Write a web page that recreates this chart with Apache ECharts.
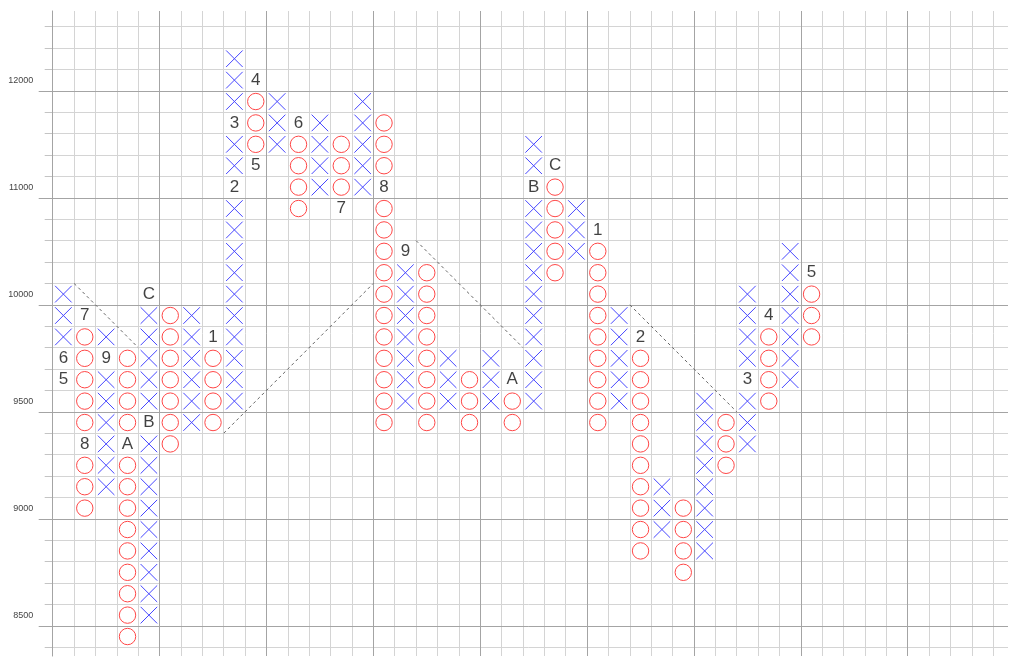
<!DOCTYPE html>
<html><head><meta charset="utf-8">
<script src="https://cdn.jsdelivr.net/npm/echarts@6/dist/echarts.min.js"></script>
<style>html,body{margin:0;padding:0;background:#fff}#c{width:1024px;height:672px}</style>
</head><body><div id="c"></div>
<script>
// Box levels (lower bound price of each box; 100 below 10000, 200 above)
const boxLevels = [8400,8500,8600,8700,8800,8900,9000,9100,9200,9300,9400,9500,9600,9700,9800,9900,
  10000,10200,10400,10600,10800,11000,11200,11400,11600,11800,12000,12200,12400,12600];
const axisLabelPrices = [8500,9000,9500,10000,11000,12000];
const majorLinePrices = [8500,9000,9500,10000,11000,12000];

// Point & figure columns
const columnTypes = ['X','O','X','O','X','O','X','O','X','O','X','O','X','O','X','O','X','O',
  'X','O','X','O','X','O','X','O','X','O','X','O','X','O','X','O','X','O'];
const columnLows  = [9600,9000,9100,8400,8500,9300,9400,9400,9500,11200,11400,10800,11000,10800,11000,9400,9500,9400,
  9500,9400,9500,9400,9500,10200,10400,9400,9500,8800,8900,8700,8800,9200,9300,9500,9600,9800];
const columnHighs = [10000,9900,9800,9700,10000,9900,9900,9800,12200,12000,11800,11600,11600,11400,11800,11600,10400,10200,
  9700,9600,9700,9600,11400,11200,10800,10600,9900,9800,9100,9000,9500,9400,10000,9900,10400,10200];

// Month markers: [column, box price, text]
const monthLabels = [
  [0,9600,'5'],[0,9700,'6'],[1,9900,'7'],[1,9300,'8'],[2,9700,'9'],[3,9300,'A'],[4,9400,'B'],[4,10000,'C'],
  [7,9800,'1'],[8,11000,'2'],[8,11600,'3'],[9,12000,'4'],[9,11200,'5'],[11,11600,'6'],[13,10800,'7'],
  [15,11000,'8'],[16,10400,'9'],[21,9600,'A'],[22,11000,'B'],[23,11200,'C'],[25,10600,'1'],[27,9800,'2'],
  [32,9600,'3'],[33,9900,'4'],[35,10200,'5']
];

// Trend lines: [[columnLine, priceLine], [columnLine, priceLine]]
const trendLines = [
  [[1,10200],[4,9800]],
  [[8,9400],[15,10200]],
  [[17,10600],[22,9800]],
  [[27,10000],[32,9500]]
];

const totalColumnLines = 45;

const row = p => boxLevels.indexOf(p);
const labelKey = new Set(monthLabels.map(m => m[0] + '_' + m[1]));
const xPts = [], oPts = [];
columnTypes.forEach((t, c) => {
  for (let r = row(columnLows[c]); r <= row(columnHighs[c]); r++) {
    if (labelKey.has(c + '_' + boxLevels[r])) continue;
    (t === 'X' ? xPts : oPts).push([c + 0.5, r + 0.5]);
  }
});
const textPts = monthLabels.map(m => [m[0] + 0.5, row(m[1]) + 0.5, m[2]]);

const minorX = Array.from({length: totalColumnLines}, (_, i) => i);
const majorX = minorX.filter(v => v % 5 === 0);
const minorY = boxLevels.map((p, i) => i);
const majorY = majorLinePrices.map(row);
const labelY = axisLabelPrices.map(p => row(p) + 0.5);

const xMin = -0.159, xMax = 44.69, yMin = -0.41, yMax = 29.73;
const minorColor = '#d4d4d4', majorColor = '#a4a4a4';
const X_COLOR = '#4646ff', O_COLOR = '#ff4646';
const HALF = 8.3;

function renderX(params, api) {
  const c = api.coord([api.value(0), api.value(1)]);
  const st = {stroke: X_COLOR, lineWidth: 1};
  return {type: 'group', children: [
    {type: 'line', shape: {x1: c[0] - HALF, y1: c[1] - HALF, x2: c[0] + HALF, y2: c[1] + HALF}, style: st},
    {type: 'line', shape: {x1: c[0] + HALF, y1: c[1] - HALF, x2: c[0] - HALF, y2: c[1] + HALF}, style: st}
  ]};
}
function renderO(params, api) {
  const c = api.coord([api.value(0), api.value(1)]);
  return {type: 'circle', shape: {cx: c[0], cy: c[1], r: 8.2},
    style: {fill: 'rgba(255,255,255,0)', stroke: O_COLOR, lineWidth: 1}};
}

const chart = echarts.init(document.getElementById('c'), null, {renderer: 'canvas'});
chart.setOption({
  animation: false,
  grid: {left: 49.3, right: 16, top: 11, bottom: 16, containLabel: false},
  xAxis: [
    {type: 'value', min: xMin, max: xMax, axisLine: {show: false},
     axisTick: {show: false, customValues: minorX}, axisLabel: {show: false},
     splitLine: {show: true, lineStyle: {color: minorColor, width: 1}}},
    {type: 'value', min: xMin, max: xMax, axisLine: {show: false}, z: 1,
     axisTick: {show: false, customValues: majorX}, axisLabel: {show: false},
     splitLine: {show: true, lineStyle: {color: majorColor, width: 1}}}
  ],
  yAxis: [
    {type: 'value', min: yMin, max: yMax, position: 'left',
     axisLine: {show: true, lineStyle: {color: '#999'}},
     axisTick: {show: true, customValues: minorY, length: 8, lineStyle: {color: '#c4c4c4'}},
     axisLabel: {show: false},
     splitLine: {show: true, lineStyle: {color: minorColor, width: 1}}},
    {type: 'value', min: yMin, max: yMax, position: 'left', z: 1,
     axisLine: {show: false},
     axisTick: {show: true, customValues: majorY, length: 14, lineStyle: {color: '#a4a4a4'}},
     axisLabel: {show: true, customValues: labelY, margin: 16, fontSize: 9, color: '#444',
       fontFamily: 'Liberation Sans, Arial, sans-serif',
       formatter: v => String(boxLevels[Math.floor(v)])},
     splitLine: {show: true, lineStyle: {color: majorColor, width: 1}}}
  ],
  series: [
    {type: 'custom', name: 'X', data: xPts, renderItem: renderX, silent: true, z: 3, clip: false},
    {type: 'custom', name: 'O', data: oPts, renderItem: renderO, silent: true, z: 3, clip: false},
    {type: 'scatter', name: 'months', data: textPts, symbol: 'circle', symbolSize: 1,
     itemStyle: {color: 'rgba(0,0,0,0)'}, silent: true, z: 4,
     label: {show: true, position: 'inside', formatter: p => p.value[2], fontSize: 17, color: '#111',
       fontFamily: 'Liberation Sans, Arial, sans-serif'}}
  ].concat(trendLines.map(t => ({
    type: 'line', data: t.map(pt => [pt[0], row(pt[1])]), symbol: 'none', silent: true, z: 2,
    lineStyle: {color: '#666', width: 1, type: [3, 3]}
  })))
});
</script></body></html>
